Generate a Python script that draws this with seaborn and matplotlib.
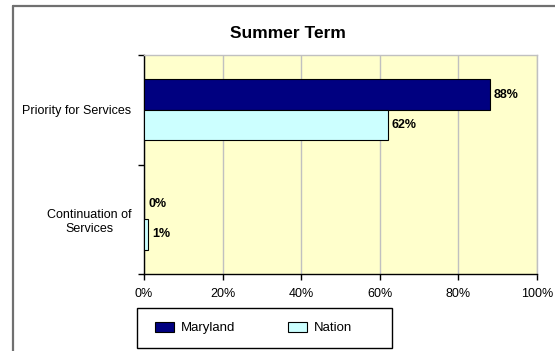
import matplotlib
matplotlib.use("Agg")
import matplotlib.pyplot as plt
import matplotlib.patches as mpatches
import matplotlib.lines as mlines
import seaborn as sns
import pandas as pd

categories = ["Priority for Services", "Continuation of\nServices"]
series = ["Maryland", "Nation"]
maryland = [88, 0]
nation = [62, 1]
x_ticks = [0, 20, 40, 60, 80, 100]
x_tick_labels = ["0%", "20%", "40%", "60%", "80%", "100%"]
title = "Summer Term"

colors = {"Maryland": "#000080", "Nation": "#CCFFFF"}

df = pd.DataFrame({
    "category": categories * 2,
    "series": [series[0]] * len(categories) + [series[1]] * len(categories),
    "value": maryland + nation,
})

sns.set_style("white")
plt.rcParams["font.family"] = ["Liberation Sans", "DejaVu Sans"]
plt.rcParams["text.color"] = "black"
plt.rcParams["xtick.color"] = "black"
plt.rcParams["ytick.color"] = "black"
plt.rcParams["axes.labelcolor"] = "black"

W, H = 555, 351
fig = plt.figure(figsize=(W / 100, H / 100), dpi=100)
fig.patch.set_facecolor("white")

# outer chart frame (top and left edges only visible)
fig.add_artist(mlines.Line2D([13 / W, 13 / W], [0, 1 - 6 / H], transform=fig.transFigure,
                             color="#707070", linewidth=1.6))
fig.add_artist(mlines.Line2D([13 / W, 1.0], [1 - 6 / H, 1 - 6 / H], transform=fig.transFigure,
                             color="#707070", linewidth=1.6))

ax = fig.add_axes([144 / W, 1 - 274 / H, 393 / W, 219 / H])
ax.set_facecolor("#FFFFCC")

sns.barplot(data=df, y="category", x="value", hue="series", orient="h",
            order=categories, hue_order=series, palette=colors, saturation=1,
            width=0.557, edgecolor="black", linewidth=0.8, ax=ax,
            legend=True, zorder=3)

ax.set_xlim(0, 100)
ax.set_ylim(1.5, -0.5)
ax.set_xticks(x_ticks)
ax.set_xticklabels(x_tick_labels, fontsize=9)
ax.set_xlabel("")
ax.set_ylabel("")
ax.grid(axis="x", color="#C0C0C0", linewidth=1, zorder=0)
ax.set_axisbelow(True)

ax.set_yticks([0, 1])
ax.set_yticklabels(categories, fontsize=9, multialignment="center")
ax.set_yticks([-0.5, 0.5, 1.5], minor=True)
ax.tick_params(axis="y", which="major", length=0, pad=9)
ax.tick_params(axis="y", which="minor", length=4, width=1, direction="out", color="black", left=True)
ax.tick_params(axis="x", length=4, width=1, direction="out", color="black", bottom=True, pad=6)

for s in ["top", "right"]:
    ax.spines[s].set_color("#C0C0C0")
    ax.spines[s].set_linewidth(1)
for s in ["left", "bottom"]:
    ax.spines[s].set_color("black")
    ax.spines[s].set_linewidth(1)

for cont in ax.containers:
    ax.bar_label(cont, labels=[f"{v:.0f}%" for v in cont.datavalues],
                 padding=3, fontsize=9, fontweight="bold")

ax.get_legend().remove()

# legend box drawn separately so its size matches the reference
fig.add_artist(mpatches.Rectangle((137 / W, 1 - 348 / H), 255 / W, 40 / H,
                                  transform=fig.transFigure, facecolor="white",
                                  edgecolor="black", linewidth=1, zorder=1))
handles = [mpatches.Patch(facecolor=colors[s], edgecolor="black", linewidth=0.8) for s in series]
leg = fig.legend(handles, series, loc="center left", ncol=2,
                 bbox_to_anchor=(137 / W, 1 - 328 / H),
                 fontsize=9.5, frameon=False,
                 handlelength=1.42, handleheight=0.76, borderaxespad=0.0,
                 borderpad=1.36, handletextpad=0.53, columnspacing=4.0)
leg.set_zorder(2)

fig.text(287.5 / W, 1 - 33 / H, title, ha="center", va="center",
         fontsize=12.5, fontweight="bold")

fig.savefig("out.png", dpi=100)
